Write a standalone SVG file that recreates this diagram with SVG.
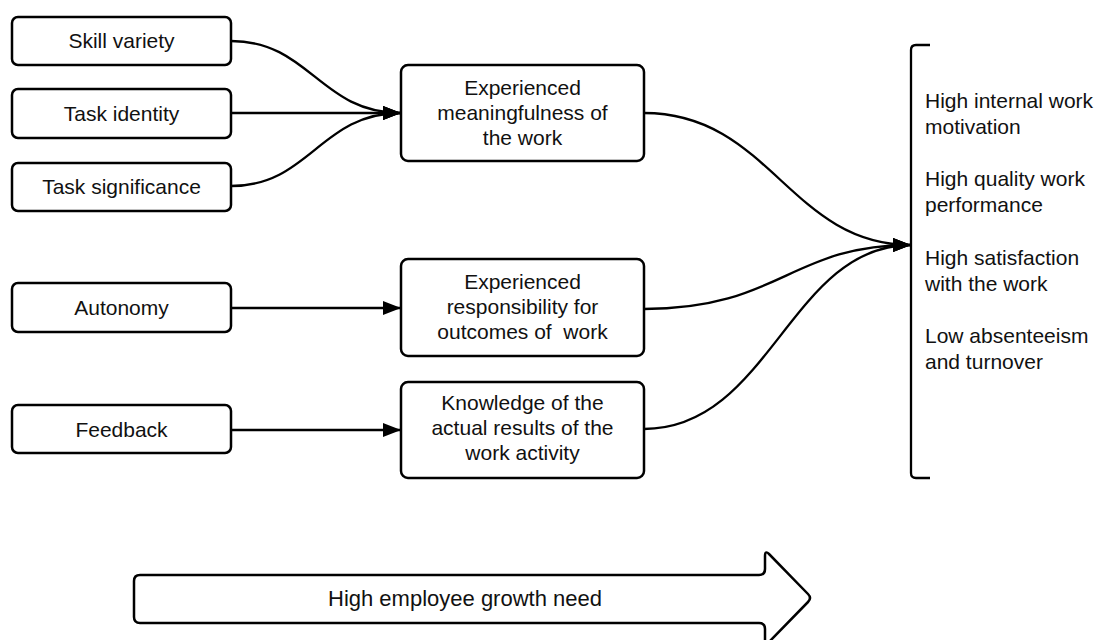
<svg xmlns="http://www.w3.org/2000/svg" width="1099" height="640" viewBox="0 0 1099 640">
  <style>
    .box { fill: #ffffff; stroke: #000000; stroke-width: 2.5; }
    .lbl { font-family: "Liberation Sans", Arial, sans-serif; font-size: 21px; fill: #111111; text-anchor: middle; white-space: pre; }
    .out { font-family: "Liberation Sans", Arial, sans-serif; font-size: 21px; fill: #111111; text-anchor: start; }
    .link { fill: none; stroke: #000000; stroke-width: 2.3; }
  </style>
  <defs>
    <marker id="head" viewBox="0 0 18 14" refX="18" refY="7" markerWidth="18" markerHeight="14" markerUnits="userSpaceOnUse" orient="auto">
      <path d="M0,0 L18,7 L0,14 Z" fill="#000000"/>
    </marker>
  </defs>
  <rect width="1099" height="640" fill="#ffffff"/>

  <!-- job characteristics -->
  <g id="skill-variety">
    <rect class="box" x="12" y="17" width="219" height="48" rx="6"/>
    <text class="lbl" x="121.5" y="48">Skill variety</text>
  </g>
  <g id="task-identity">
    <rect class="box" x="12" y="89" width="219" height="49" rx="6"/>
    <text class="lbl" x="121.5" y="121">Task identity</text>
  </g>
  <g id="task-significance">
    <rect class="box" x="12" y="163" width="219" height="48" rx="6"/>
    <text class="lbl" x="121.5" y="194">Task significance</text>
  </g>
  <g id="autonomy">
    <rect class="box" x="12" y="283" width="219" height="49" rx="6"/>
    <text class="lbl" x="121.5" y="315">Autonomy</text>
  </g>
  <g id="feedback">
    <rect class="box" x="12" y="405" width="219" height="48" rx="6"/>
    <text class="lbl" x="121.5" y="437">Feedback</text>
  </g>

  <!-- psychological states -->
  <g id="meaningfulness">
    <rect class="box" x="401" y="65" width="243" height="96" rx="7"/>
    <text class="lbl" x="522.5" y="95">Experienced</text>
    <text class="lbl" x="522.5" y="120">meaningfulness of</text>
    <text class="lbl" x="522.5" y="145">the work</text>
  </g>
  <g id="responsibility">
    <rect class="box" x="401" y="259" width="243" height="97" rx="7"/>
    <text class="lbl" x="522.5" y="289">Experienced</text>
    <text class="lbl" x="522.5" y="314">responsibility for</text>
    <text class="lbl" x="522.5" y="339">outcomes of  work</text>
  </g>
  <g id="knowledge">
    <rect class="box" x="401" y="382" width="243" height="96" rx="7"/>
    <text class="lbl" x="522.5" y="410">Knowledge of the</text>
    <text class="lbl" x="522.5" y="435">actual results of the</text>
    <text class="lbl" x="522.5" y="460">work activity</text>
  </g>

  <!-- outcomes -->
  <g id="outcomes">
    <path class="link" d="M930,45 H916 Q911,45 911,50 V473 Q911,478 916,478 H930"/>
    <text class="out" x="925" y="108">High internal work</text>
    <text class="out" x="925" y="134">motivation</text>
    <text class="out" x="925" y="186">High quality work</text>
    <text class="out" x="925" y="212">performance</text>
    <text class="out" x="925" y="265">High satisfaction</text>
    <text class="out" x="925" y="291">with the work</text>
    <text class="out" x="925" y="343">Low absenteeism</text>
    <text class="out" x="925" y="369">and turnover</text>
  </g>

  <!-- growth need arrow -->
  <g id="growth-need">
    <path class="box" d="M140,575 H759 Q765,575 765,569 V556 Q765,550 769,554 L808,594 Q812,598 808,602 L769,642 Q765,646 765,640 V629 Q765,623 759,623 H140 Q134,623 134,617 V581 Q134,575 140,575 Z"/>
    <text class="lbl" x="465" y="606" style="font-size:22px">High employee growth need</text>
  </g>

  <!-- connectors -->
  <g id="connectors">
    <path class="link" marker-end="url(#head)" d="M231,41 C310,41 320,113 401,113"/>
    <path class="link" marker-end="url(#head)" d="M231,113 H401"/>
    <path class="link" marker-end="url(#head)" d="M231,186 C310,186 320,113 401,113"/>
    <path class="link" marker-end="url(#head)" d="M231,308 H401"/>
    <path class="link" marker-end="url(#head)" d="M231,430 H401"/>
    <path class="link" marker-end="url(#head)" d="M644,113 C770,113 790,245 911,245"/>
    <path class="link" marker-end="url(#head)" d="M644,309 C780,309 790,245 911,245"/>
    <path class="link" marker-end="url(#head)" d="M644,429 C770,429 790,245 911,245"/>
  </g>
</svg>
